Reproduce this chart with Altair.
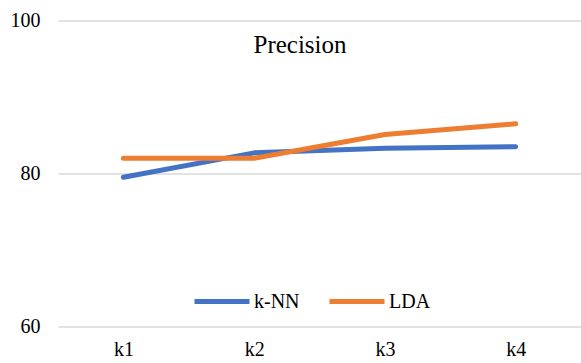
import altair as alt
import pandas as pd

categories = ["k1", "k2", "k3", "k4"]
knn = [79.5, 82.7, 83.3, 83.5]
lda = [82.0, 82.0, 85.1, 86.5]
series_names = ["k-NN", "LDA"]
colors = ["#4472C4", "#ED7D31"]

rows = []
for c, v in zip(categories, knn):
    rows.append({"k": c, "value": v, "series": "k-NN"})
for c, v in zip(categories, lda):
    rows.append({"k": c, "value": v, "series": "LDA"})
df = pd.DataFrame(rows)

FONT = "Liberation Serif"

lines = alt.Chart(df).mark_line(strokeWidth=5, strokeCap="round", strokeJoin="round").encode(
    x=alt.X("k:N", sort=categories, title=None,
            scale=alt.Scale(padding=0.5),
            axis=alt.Axis(labelAngle=0, domain=False, ticks=False,
                          labelFont=FONT, labelFontSize=20, labelColor="#000000", labelPadding=13,
                          grid=False)),
    y=alt.Y("value:Q", title=None,
            scale=alt.Scale(domain=[60, 100], nice=False, zero=False),
            axis=alt.Axis(values=[60, 80, 100], domain=False, ticks=False,
                          labelFont=FONT, labelFontSize=20, labelColor="#000000", labelPadding=18,
                          grid=True, gridColor="#d9d9d9", gridWidth=1.3)),
    color=alt.Color("series:N", sort=series_names,
                    scale=alt.Scale(domain=series_names, range=colors),
                    legend=alt.Legend(orient="none", legendX=134, legendY=251, direction="horizontal",
                                      title=None, symbolType="stroke", symbolSize=3025,
                                      symbolStrokeWidth=5, labelFont=FONT, labelFontSize=20,
                                      labelColor="#000000", labelOffset=2, columnPadding=19)),
)

title = alt.Chart(pd.DataFrame({"t": ["Precision"]})).mark_text(
    font=FONT, fontSize=25, color="#000000", baseline="middle", align="center"
).encode(text="t:N", x=alt.value(242), y=alt.value(24))

chart = alt.layer(lines, title).properties(
    width=523, height=306,
    autosize=alt.AutoSizeParams(type="none"),
    padding={"left": 58, "top": 20.5, "right": 0, "bottom": 36},
    background="white",
).configure_view(strokeWidth=0, stroke="transparent").configure_axis(
    domain=False, ticks=False).configure_axisY(domain=False).configure_axisLeft(domain=False)

chart.save("out.html", embed_options={"renderer": "svg", "actions": False})
